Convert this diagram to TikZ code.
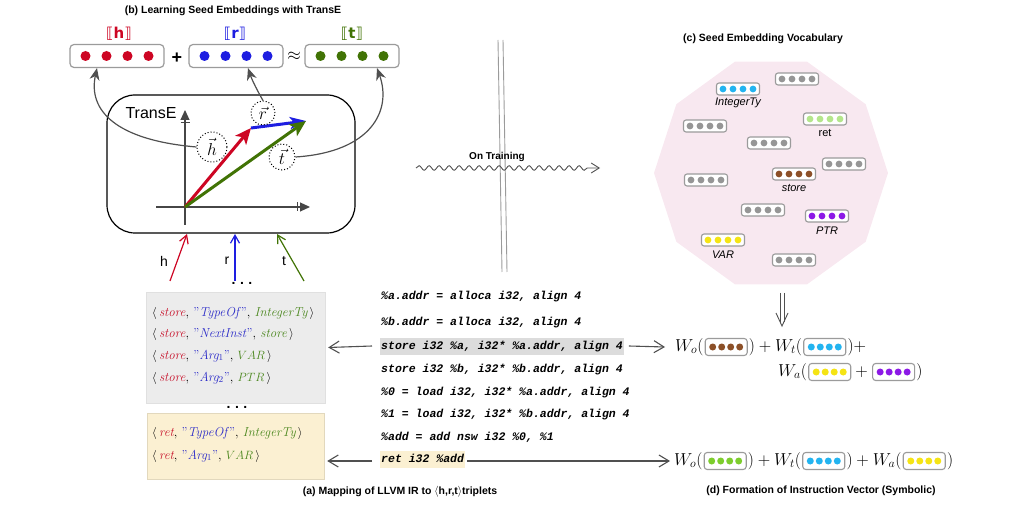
\documentclass[tikz,border=0pt]{standalone}
\usepackage{fontspec}
\newfontfamily\sanf{Liberation Sans}
\newfontfamily\codefont{Liberation Mono}
\newfontfamily\dejavu{DejaVu Sans}
\usetikzlibrary{arrows.meta,positioning,calc,decorations.pathmorphing}
\definecolor{hred}{RGB}{205,5,35}
\definecolor{rblue}{RGB}{30,30,225}
\definecolor{tgreen}{RGB}{65,115,5}
\definecolor{arrgray}{RGB}{80,80,80}
\definecolor{axgray}{RGB}{70,70,70}
\definecolor{boxgray}{RGB}{155,155,155}
\definecolor{dotgray}{RGB}{150,150,150}
\definecolor{ecyan}{RGB}{35,180,240}
\definecolor{elgreen}{RGB}{180,230,140}
\definecolor{egreen}{RGB}{125,205,45}
\definecolor{ebrown}{RGB}{140,80,40}
\definecolor{epurple}{RGB}{140,25,230}
\definecolor{eyellow}{RGB}{245,228,20}
\definecolor{pinkbg}{RGB}{248,232,240}
\definecolor{tripgray}{RGB}{236,236,236}
\definecolor{tripyel}{RGB}{251,240,210}
\definecolor{codegray}{RGB}{220,220,220}
\definecolor{txred}{RGB}{200,20,45}
\definecolor{txblue}{RGB}{45,45,200}
\definecolor{txgreen}{RGB}{75,135,30}
\newcommand\dotsin[4]{\foreach \k in {-1.5,-0.5,0.5,1.5}{\fill[#2] ($(#1.center)+(\k*#3,0)$) circle (#4);}}
\newcommand\vocabbox[4]{\node[vbx] (#1) at (#2,#3) {};\dotsin{#1}{#4}{10}{3.4}}
\newcommand\tripl[3]{$\langle$\,\textcolor{txred}{\itshape #1}, \textcolor{txblue}{"\textit{#2}"}, \textcolor{txgreen}{#3}\,$\rangle$}
\begin{document}
\begin{tikzpicture}[x=1pt,y=-1pt,
  topbox/.style={draw=boxgray, line width=1.2pt, rounded corners=4pt, fill=white, minimum width=94pt, minimum height=23pt, inner sep=0pt},
  vbx/.style={draw=boxgray, line width=1.1pt, rounded corners=2.5pt, fill=white, minimum width=43pt, minimum height=12pt, inner sep=0pt},
  fbx/.style={draw=boxgray, line width=1.1pt, rounded corners=3pt, fill=white, minimum width=42pt, minimum height=17pt, inner sep=0pt},
  ftext/.style={inner sep=0pt, font=\fontsize{18}{20}\selectfont},
  capt/.style={font=\sanf\bfseries\fontsize{10.5}{12}\selectfont, inner sep=0pt},
  codeline/.style={anchor=west, font=\codefont\bfseries\itshape\fontsize{11.5}{13}\selectfont, inner xsep=1pt, inner ysep=2.5pt, text height=9pt, text depth=3pt},
  tripline/.style={anchor=west, font=\fontsize{13}{15}\selectfont, inner sep=0pt},
  garrow/.style={draw=arrgray, line width=1.1pt, -{Straight Barb[length=10pt,width=12pt]}},
  curvarrow/.style={draw=arrgray, line width=1.2pt, -{Stealth[length=12pt,width=10pt]}},
  dcirc/.style={draw, dotted, line width=1pt, circle, inner sep=0pt, font=\fontsize{16}{18}\selectfont},
  vlab/.style={font=\sanf\fontsize{11}{13}\selectfont, inner sep=0pt},
  inarrow/.style={line width=1.2pt, -{Straight Barb[length=8pt,width=9pt]}},
  axis/.style={draw=axgray, line width=1.1pt, -{Bar[width=9pt,sep=2pt]Triangle[length=10pt,width=9pt]}},
  hrt/.style={font=\sanf\fontsize{14}{16}\selectfont, inner sep=0pt},
  ddots/.style={font=\sanf\bfseries\fontsize{14}{16}\selectfont, inner sep=0pt}
]
\useasboundingbox (0,0) rectangle (1035,510);

% ---------- (b) TransE ----------
\node[capt] (capb) at (233,11) {(b) Learning Seed Embeddings with TransE};
\node[topbox] (hb) at (117,56) {};
\node[topbox] (rb) at (236,56) {};
\node[topbox] (tb) at (352,56) {};
\dotsin{hb}{hred}{21}{5}
\dotsin{rb}{rblue}{21}{5}
\dotsin{tb}{tgreen}{21}{5}
\node[font=\sanf\bfseries\fontsize{18}{20}\selectfont, inner sep=0pt] (plus) at (177,58) {+};
\node[font=\fontsize{17}{19}\selectfont, inner sep=0pt] (approx) at (294,56) {$\approx$};
\node[text=hred, font=\fontsize{15}{17}\selectfont, inner sep=0pt] (lh) at (119,34) {{\dejavu ⟦}{\dejavu\bfseries h}{\dejavu ⟧}};
\node[text=rblue, font=\fontsize{15}{17}\selectfont, inner sep=0pt] (lr) at (235,34) {{\dejavu ⟦}{\dejavu\bfseries r}{\dejavu ⟧}};
\node[text=tgreen, font=\fontsize{15}{17}\selectfont, inner sep=0pt] (lt) at (352,34) {{\dejavu ⟦}{\dejavu\bfseries t}{\dejavu ⟧}};

\node[draw, line width=1.2pt, rounded corners=28pt, minimum width=248pt, minimum height=138pt] (tbox) at (231,164) {};
\node[font=\sanf\fontsize{16}{18}\selectfont, inner sep=0pt] (tlab) at (151,113) {TransE};

\coordinate (O) at (185,207);
\coordinate (ytop) at (185,110);
\coordinate (ybot) at (185,225);
\coordinate (xl) at (156,207);
\coordinate (xr) at (310,207);
\draw[axis] (ybot) -- (ytop);
\draw[axis] (xl) -- (xr);
\coordinate (H) at (251,128);
\coordinate (T) at (306,121);
\draw[hred, line width=3pt, -{Stealth[length=16pt,width=14pt,inset=4pt]}] (O) -- (H);
\draw[rblue, line width=3pt, -{Stealth[length=16pt,width=12pt,inset=4pt]}] (H) -- (T);
\draw[tgreen, line width=3pt, -{Stealth[length=16pt,width=14pt,inset=4pt]}] (O) -- (T);

\node[dcirc, minimum size=30pt] (ch) at (212,147) {$\vec{h}$};
\node[dcirc, minimum size=24pt] (cr) at (263,113) {$\vec{r}$};
\node[dcirc, minimum size=26pt] (ct) at (282,157) {$\vec{t}$};

\draw[curvarrow] (ch.west) .. controls (115,140) and (88,110) .. ([xshift=-20pt]hb.south);
\draw[curvarrow] (cr.north) .. controls (258,92) and (252,80) .. ([xshift=12pt]rb.south);
\draw[curvarrow] (ct.east) .. controls (372,152) and (392,110) .. ([xshift=25pt]tb.south);

\coordinate (hs) at (170,281);
\coordinate (he) at (187,234);
\coordinate (rs) at (235,281);
\coordinate (re) at (235,234);
\coordinate (ts) at (304,281);
\coordinate (te) at (277,234);
\draw[inarrow, hred] (hs) -- (he);
\draw[inarrow, rblue] (rs) -- (re);
\draw[inarrow, tgreen] (ts) -- (te);
\node[hrt] (hl) at (164,261) {h};
\node[hrt] (rl) at (227,261) {r};
\node[hrt] (tl) at (284,261) {t};
\node[ddots] (dots1) at (242,283) {.\hspace{4.5pt}.\hspace{4.5pt}.};

% ---------- (a) triplets ----------
\node[fill=tripgray, draw=black!12, minimum width=179pt, minimum height=111pt, inner sep=0pt] (trip1) at (235.5,347.5) {};
\node[fill=tripyel, draw=tripyel!90!black, minimum width=177pt, minimum height=66pt, inner sep=0pt] (trip2) at (235.5,446) {};
\node[tripline] (t11) at (152,313) {\tripl{store}{TypeOf}{\itshape IntegerTy}};
\node[tripline] (t12) at (152,334) {\tripl{store}{NextInst}{\itshape store}};
\node[tripline] (t13) at (152,356) {\tripl{store}{Arg$_1$}{$VAR$}};
\node[tripline] (t14) at (152,378) {\tripl{store}{Arg$_2$}{$PTR$}};
\node[ddots] (dots2) at (237,407) {.\hspace{4.5pt}.\hspace{4.5pt}.};
\node[tripline] (t21) at (152,433) {\tripl{ret}{TypeOf}{\itshape IntegerTy}};
\node[tripline] (t22) at (152,456) {\tripl{ret}{Arg$_1$}{$VAR$}};

\node[codeline] (c1) at (380,297) {\%a.addr = alloca i32, align 4};
\node[codeline] (c2) at (380,323) {\%b.addr = alloca i32, align 4};
\node[codeline, fill=codegray] (cs) at (380,346) {store i32 \%a, i32* \%a.addr, align 4};
\node[codeline] (c4) at (380,369) {store i32 \%b, i32* \%b.addr, align 4};
\node[codeline] (c5) at (380,392) {\%0 = load i32, i32* \%a.addr, align 4};
\node[codeline] (c6) at (380,414) {\%1 = load i32, i32* \%b.addr, align 4};
\node[codeline] (c7) at (380,437) {\%add = add nsw i32 \%0, \%1};
\node[codeline, fill=tripyel] (cret) at (380,459) {ret i32 \%add};

\node[capt] (capa) at (400,492) {(a) Mapping of LLVM IR to $\langle$h,r,t$\rangle$triplets};

\draw[garrow] ([xshift=-8pt]cs.west) -- ([xshift=3pt]trip1.east);
\coordinate (t2r) at ([yshift=-2pt]trip2.east |- cret.west);
\draw[garrow] ([xshift=-8pt,yshift=-2pt]cret.west) -- ([xshift=3pt]t2r);

% ---------- on training ----------
\draw[boxgray, line width=0.9pt] (498,40) -- (502,272);
\draw[boxgray, line width=0.9pt] (503,40) -- (507,272);
\coordinate (ws) at (416,168);
\coordinate (we) at (600,168);
\draw[arrgray, line width=0.9pt, decorate, decoration={snake, amplitude=2.3pt, segment length=10pt, post length=8pt}, -{Straight Barb[length=8pt,width=10pt]}] (ws) -- (we);
\node[font=\sanf\bfseries\fontsize{10}{12}\selectfont, inner sep=0pt] (ontr) at (497,157) {On Training};

% ---------- (c) vocabulary ----------
\node[capt] (capc) at (763,39) {(c) Seed Embedding Vocabulary};
\fill[pinkbg, shift={(771,173)}] (0:117) -- (36:117) -- (72:117) -- (108:117) -- (144:117) -- (180:117) -- (216:117) -- (252:117) -- (288:117) -- (324:117) -- cycle;
\vocabbox{v1}{738}{89}{ecyan}
\vocabbox{v2}{797}{79}{dotgray}
\vocabbox{v3}{705}{126}{dotgray}
\vocabbox{v4}{825}{119}{elgreen}
\vocabbox{v5}{769}{143}{dotgray}
\vocabbox{v6}{844}{164}{dotgray}
\vocabbox{v7}{794}{174}{ebrown}
\vocabbox{v8}{706}{180}{dotgray}
\vocabbox{v9}{763}{210}{dotgray}
\vocabbox{v10}{827}{216}{epurple}
\vocabbox{v11}{723}{240}{eyellow}
\vocabbox{v12}{794}{260}{dotgray}
\node[vlab] (l1) at (738,103) {\itshape IntegerTy};
\node[vlab] (l4) at (825,133) {ret};
\node[vlab] (l7) at (794,188) {\itshape store};
\node[vlab] (l10) at (827,231) {\itshape PTR};
\node[vlab] (l11) at (723,255) {\itshape VAR};

% double arrow (vocabulary => formula)
\coordinate (dda) at (780,293);
\coordinate (ddb) at (780,322);
\coordinate (ddc) at (784,293);
\coordinate (ddd) at (784,322);
\coordinate (dtl) at (776,313);
\coordinate (dtip) at (782,326);
\coordinate (dtr) at (788,313);
\draw[arrgray, line width=0.9pt] (dda) -- (ddb);
\draw[arrgray, line width=0.9pt] (ddc) -- (ddd);
\draw[arrgray, line width=0.9pt] (dtl) -- (dtip) -- (dtr);

% ---------- (d) formulas ----------
\node[ftext, anchor=west] (f1a) at (675,347) {$W_o($};
\node[fbx, right=1pt of f1a] (f1b) {};
\node[ftext, right=1pt of f1b] (f1c) {$)+W_t($};
\node[fbx, right=1pt of f1c] (f1d) {};
\node[ftext, right=1pt of f1d] (f1e) {$)+$};
\dotsin{f1b}{ebrown}{9}{3.5}
\dotsin{f1d}{ecyan}{9}{3.5}

\node[ftext, anchor=west] (f2a) at (778,372) {$W_a($};
\node[fbx, right=1pt of f2a] (f2b) {};
\node[ftext, right=4pt of f2b] (f2c) {$+$};
\node[fbx, right=4pt of f2c] (f2d) {};
\node[ftext, right=1pt of f2d] (f2e) {$)$};
\dotsin{f2b}{eyellow}{9}{3.5}
\dotsin{f2d}{epurple}{9}{3.5}

\node[ftext, anchor=west] (f3a) at (674,461) {$W_o($};
\node[fbx, right=1pt of f3a] (f3b) {};
\node[ftext, right=1pt of f3b] (f3c) {$)+W_t($};
\node[fbx, right=1pt of f3c] (f3d) {};
\node[ftext, right=1pt of f3d] (f3e) {$)+W_a($};
\node[fbx, right=1pt of f3e] (f3f) {};
\node[ftext, right=1pt of f3f] (f3g) {$)$};
\dotsin{f3b}{egreen}{9}{3.5}
\dotsin{f3d}{ecyan}{9}{3.5}
\dotsin{f3f}{eyellow}{9}{3.5}

\draw[garrow] ([xshift=5pt]cs.east) -- ([xshift=-10pt]f1a.west);
\coordinate (rst) at ([xshift=2pt,yshift=-2pt]cret.east);
\coordinate (ren) at ([xshift=-4pt]rst -| f3a.west);
\draw[garrow] (rst) -- (ren);

\node[capt] (capd) at (821,491) {(d) Formation of Instruction Vector (Symbolic)};
\end{tikzpicture}
\end{document}
